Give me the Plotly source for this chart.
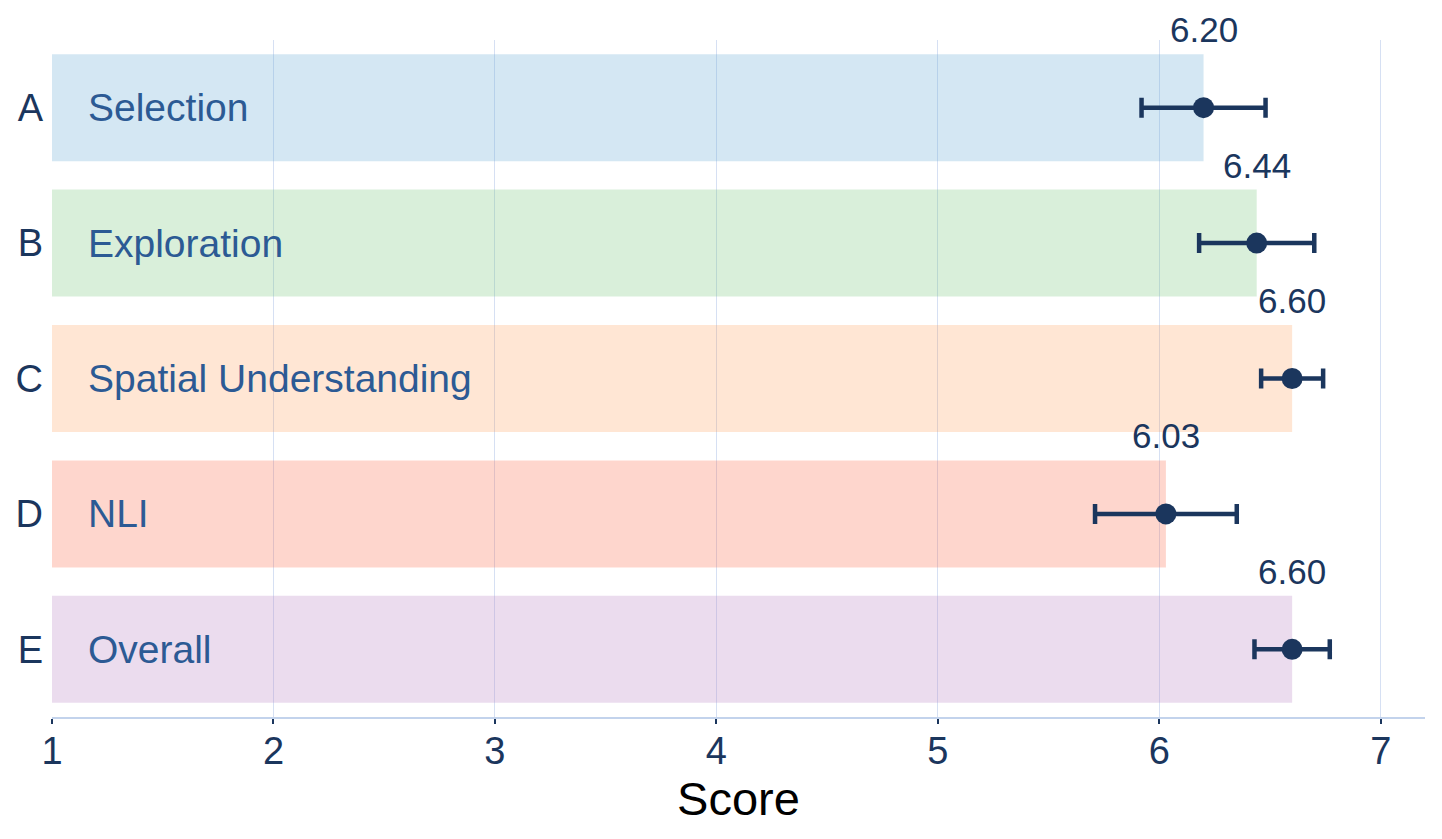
import plotly.graph_objects as go

letters = ["A", "B", "C", "D", "E"]
names = ["Selection", "Exploration", "Spatial Understanding", "NLI", "Overall"]
means = [6.20, 6.44, 6.60, 6.03, 6.60]
errors = [0.28, 0.26, 0.14, 0.32, 0.17]
bar_colors = ["rgba(107,174,214,0.29)", "rgba(116,196,118,0.27)", "rgba(253,141,60,0.22)",
              "rgba(251,106,74,0.28)", "rgba(190,140,200,0.30)"]
value_labels = [f"{m:.2f}" for m in means]
ypos = list(range(len(letters)))

fig = go.Figure()
fig.add_trace(go.Bar(
    y=ypos, x=[m - 1 for m in means], base=1, orientation="h",
    marker=dict(color=bar_colors, line=dict(width=0)), width=0.79,
    showlegend=False, hoverinfo="skip"))
fig.add_trace(go.Scatter(
    y=ypos, x=means, mode="markers",
    marker=dict(color="#1b365d", size=21),
    error_x=dict(type="data", array=errors, color="#1b365d", thickness=4.5, width=10),
    showlegend=False))

ann = []
for i in range(len(letters)):
    ann.append(dict(x=1, y=ypos[i], xref="x", yref="y", text=names[i], showarrow=False,
                    xanchor="left", xshift=34, font=dict(size=39, color="#2c5a94")))
    ann.append(dict(x=means[i], y=ypos[i], xref="x", yref="y", text=value_labels[i], showarrow=False,
                    xanchor="center", yshift=78, font=dict(size=35, color="#1b365d")))

fig.update_layout(
    width=1442, height=839,
    margin=dict(l=52, r=17, t=40, b=122),
    plot_bgcolor="white", paper_bgcolor="white",
    font=dict(family="Liberation Sans, Arial, sans-serif"),
    annotations=ann,
    xaxis=dict(range=[1, 7.2], tickvals=[1, 2, 3, 4, 5, 6, 7], showgrid=True,
               gridcolor="#d6e0f3", gridwidth=1.2, zeroline=False,
               showline=True, linecolor="#c3d3ec", linewidth=2,
               ticks="outside", ticklen=5, tickwidth=2, tickcolor="#1b365d",
               ticklabelstandoff=-6,
               tickfont=dict(size=38, color="#1b365d"),
               title=dict(text="Score", font=dict(size=47, color="black"), standoff=2)),
    yaxis=dict(range=[4.5, -0.5], tickvals=ypos, ticktext=letters, showgrid=False,
               zeroline=False, showline=False, ticks="", ticklabelstandoff=8,
               tickfont=dict(size=38, color="#1b365d")),
    bargap=0.2,
)
fig.write_html("out.html")
